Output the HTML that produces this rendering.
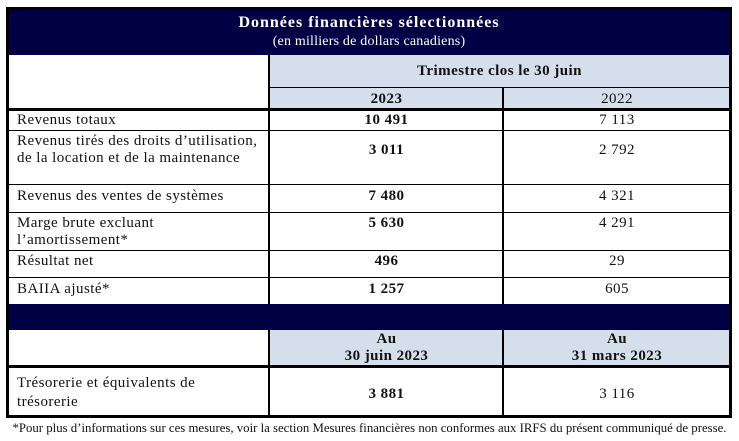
<!DOCTYPE html>
<html><head><meta charset="utf-8"><style>
body{margin:0;width:739px;height:441px;background:#fff;position:relative;font-family:"Liberation Serif",serif;color:#111;overflow:hidden}
.a{position:absolute;box-sizing:border-box}
.h{background:#000045}
.lb{background:#d5dfec}
.ln{position:absolute;background:#000}
.t{position:absolute;font-size:15px;line-height:17px;white-space:nowrap;letter-spacing:0.45px}
.c1{left:270px;width:233px;text-align:center;font-weight:bold}
.c2{left:503px;width:228px;text-align:center}
</style></head><body>
<div class="a" style="left:6px;top:7px;width:726px;height:411px;border:3px solid #000"></div>
<div class="a h" style="left:9px;top:10px;width:720px;height:45px"></div>
<div class="t" style="left:9px;width:720px;top:14px;text-align:center;color:#fff;font-weight:bold;font-size:16px;letter-spacing:1px">Données financières sélectionnées</div>
<div class="t" style="left:9px;width:720px;top:33px;text-align:center;color:#fff;font-size:14px;letter-spacing:0.2px">(en milliers de dollars canadiens)</div>
<div class="a lb" style="left:270px;top:55px;width:459px;height:53px"></div>
<div class="ln" style="left:270px;top:87px;width:459px;height:1px"></div>
<div class="ln" style="left:9px;top:108px;width:720px;height:3px"></div>
<div class="ln" style="left:268px;top:55px;width:2px;height:249px"></div>
<div class="ln" style="left:502px;top:87px;width:2px;height:217px"></div>
<div class="ln" style="left:9px;top:130px;width:720px;height:1px"></div>
<div class="ln" style="left:9px;top:184px;width:720px;height:1px"></div>
<div class="ln" style="left:9px;top:212px;width:720px;height:1px"></div>
<div class="ln" style="left:9px;top:250px;width:720px;height:1px"></div>
<div class="ln" style="left:9px;top:277px;width:720px;height:1px"></div>
<div class="a h" style="left:9px;top:304px;width:720px;height:26px"></div>
<div class="a lb" style="left:270px;top:330px;width:459px;height:36px"></div>
<div class="ln" style="left:9px;top:365px;width:720px;height:3px"></div>
<div class="ln" style="left:268px;top:330px;width:2px;height:87px"></div>
<div class="ln" style="left:502px;top:330px;width:2px;height:87px"></div>

<div class="t" style="left:270px;width:459px;top:63px;text-align:center;font-weight:bold">Trimestre clos le 30 juin</div>
<div class="t c1" style="top:91px">2023</div>
<div class="t c2" style="top:91px">2022</div>

<div class="t" style="left:17px;top:112px">Revenus totaux</div>
<div class="t c1" style="top:112px">10 491</div><div class="t c2" style="top:112px">7 113</div>

<div class="t" style="left:17px;top:133px">Revenus tirés des droits d’utilisation,</div>
<div class="t" style="left:17px;top:150px">de la location et de la maintenance</div>
<div class="t c1" style="top:142px">3 011</div><div class="t c2" style="top:142px">2 792</div>

<div class="t" style="left:17px;top:188px">Revenus des ventes de systèmes</div>
<div class="t c1" style="top:188px">7 480</div><div class="t c2" style="top:188px">4 321</div>

<div class="t" style="left:17px;top:215px">Marge brute excluant</div>
<div class="t" style="left:17px;top:232px">l’amortissement*</div>
<div class="t c1" style="top:215px">5 630</div><div class="t c2" style="top:215px">4 291</div>

<div class="t" style="left:17px;top:253px">Résultat net</div>
<div class="t c1" style="top:253px">496</div><div class="t c2" style="top:253px">29</div>

<div class="t" style="left:17px;top:281px">BAIIA ajusté*</div>
<div class="t c1" style="top:281px">1 257</div><div class="t c2" style="top:281px">605</div>

<div class="t c1" style="top:331px">Au</div><div class="t c2" style="top:331px;font-weight:bold">Au</div>
<div class="t c1" style="top:348px">30 juin 2023</div><div class="t c2" style="top:348px;font-weight:bold">31 mars 2023</div>

<div class="t" style="left:17px;top:375px">Trésorerie et équivalents de</div>
<div class="t" style="left:17px;top:394px">trésorerie</div>
<div class="t c1" style="top:386px">3 881</div><div class="t c2" style="top:386px">3 116</div>

<div class="t" style="left:0;width:739px;top:420px;font-size:12.8px;letter-spacing:0;text-align:center">*Pour plus d’informations sur ces mesures, voir la section Mesures financières non conformes aux IRFS du présent communiqué de presse.</div>
</body></html>
